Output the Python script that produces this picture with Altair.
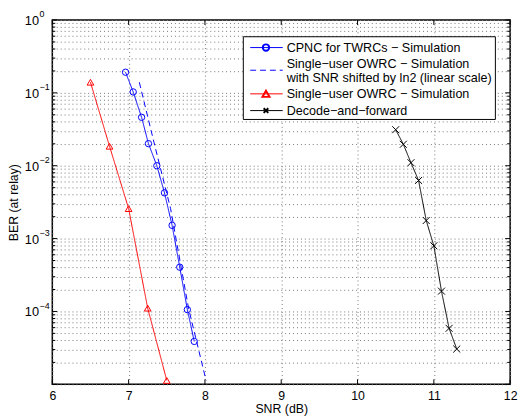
import altair as alt
import pandas as pd

# ---------------- data ----------------
cpnc_snr = [6.96, 7.06, 7.17, 7.26, 7.37, 7.47, 7.57, 7.67, 7.77, 7.86]
cpnc_ber = [0.192, 0.103, 0.0462, 0.0201, 0.0100, 0.00425, 0.00152, 4.05e-4, 1.06e-4, 3.88e-5]

shift_snr = [7.14, 7.345, 7.55, 7.785, 8.015]
shift_ber = [0.140, 0.0185, 0.00258, 1.11e-4, 1.13e-5]

owrc_snr = [6.5, 6.75, 7.0, 7.25, 7.5]
owrc_ber = [0.140, 0.0185, 0.00258, 1.11e-4, 1.13e-5]

df_snr = [10.5, 10.6, 10.7, 10.8, 10.9, 11.0, 11.1, 11.2, 11.3]
df_ber = [0.0312, 0.0197, 0.0110, 0.00628, 0.00177, 7.96e-4, 1.90e-4, 5.87e-5, 3.05e-5]

series_names = [
    "CPNC for TWRCs − Simulation",
    "Single−user OWRC − Simulation (shifted)",
    "Single−user OWRC − Simulation",
    "Decode−and−forward",
]
series_colors = ["#0000ff", "#0000ff", "#ff0000", "#000000"]

x_ticks = [6, 7, 8, 9, 10, 11, 12]
y_decades = [1, 1e-1, 1e-2, 1e-3, 1e-4, 1e-5]
y_decade_exp = ["0", "−1", "−2", "−3", "−4", "−5"]
y_minor = [m * d for d in [1e-1, 1e-2, 1e-3, 1e-4, 1e-5] for m in range(2, 10)]

# ---------------- tables ----------------
rows = []
for name, xs, ys in zip(series_names, [cpnc_snr, shift_snr, owrc_snr, df_snr],
                        [cpnc_ber, shift_ber, owrc_ber, df_ber]):
    for i, (a, b) in enumerate(zip(xs, ys)):
        rows.append({"series": name, "snr": a, "ber": b, "i": i})
data = pd.DataFrame(rows)

W, H = 465, 370
FONT = "Liberation Sans"

x_scale = alt.Scale(domain=[6, 12], nice=False, zero=False)
y_scale = alt.Scale(type="log", domain=[1e-5, 1], nice=False)

grid_vals = sorted(y_decades + y_minor)

x_enc = alt.X("snr:Q", scale=x_scale,
              axis=alt.Axis(values=x_ticks, format="d", grid=True, gridDash=[1, 3],
                            gridColor="#777", gridWidth=1, ticks=False, tickSize=0,
                            domain=False, labelFont=FONT, labelFontSize=12.5,
                            labelColor="#000", labelPadding=5, labelFlush=False,
                            title="SNR (dB)", titleFont=FONT, titleFontSize=12.5,
                            titleFontWeight="normal", titleColor="#000",
                            titleX=W / 2, titleY=25, titleBaseline="middle",
                            titleAlign="center"))
y_enc = alt.Y("ber:Q", scale=y_scale,
              axis=alt.Axis(values=grid_vals, grid=True, gridDash=[1, 3], gridColor="#777",
                            gridWidth=1, ticks=False, tickSize=0, domain=False, labels=False,
                            title="BER (at relay)", titleFont=FONT, titleFontSize=12.5,
                            titleFontWeight="normal", titleColor="#000",
                            titleX=-39, titleY=H / 2, titleAngle=-90,
                            titleAlign="center", titleBaseline="middle"))

x_plain = alt.X("snr:Q", scale=x_scale)
y_plain = alt.Y("ber:Q", scale=y_scale)

color = alt.Color("series:N", scale=alt.Scale(domain=series_names, range=series_colors),
                  legend=None)
dash = alt.StrokeDash("series:N",
                      scale=alt.Scale(domain=series_names,
                                      range=[[1, 0], [6, 4], [1, 0], [1, 0]]),
                      legend=None)

lines = alt.Chart(data).mark_line(strokeWidth=1, clip=True).encode(
    x=x_enc, y=y_enc, color=color, strokeDash=dash, order="i:Q"
)

CROSS = "M-1,-1L1,1M-1,1L1,-1"
marker_series = [series_names[0], series_names[2], series_names[3]]
markers = alt.Chart(data).transform_filter(
    alt.FieldOneOfPredicate(field="series", oneOf=marker_series)
).mark_point(filled=False, strokeWidth=1, opacity=1, clip=False).encode(
    x=x_plain, y=y_plain, color=color,
    shape=alt.Shape("series:N", scale=alt.Scale(domain=marker_series,
                                                range=["circle", "triangle-up", CROSS]),
                    legend=None),
    size=alt.Size("series:N", scale=alt.Scale(domain=marker_series, range=[42, 50, 22]),
                  legend=None),
)

# ---------------- inside ticks (box style) ----------------
ymaj = pd.DataFrame({"ber": y_decades})
ymin = pd.DataFrame({"ber": y_minor})
xt = pd.DataFrame({"snr": x_ticks})

tick_layers = []
for dfv, ln in [(ymaj, 5), (ymin, 3)]:
    tick_layers.append(alt.Chart(dfv).mark_rule(color="#000", strokeWidth=1).encode(
        y=y_plain, x=alt.value(0), x2=alt.value(ln)))
    tick_layers.append(alt.Chart(dfv).mark_rule(color="#000", strokeWidth=1).encode(
        y=y_plain, x=alt.value(W), x2=alt.value(W - ln)))
tick_layers.append(alt.Chart(xt).mark_rule(color="#000", strokeWidth=1).encode(
    x=x_plain, y=alt.value(H), y2=alt.value(H - 5)))
tick_layers.append(alt.Chart(xt).mark_rule(color="#000", strokeWidth=1).encode(
    x=x_plain, y=alt.value(0), y2=alt.value(5)))

# ---------------- y tick labels 10^k ----------------
ylab = pd.DataFrame({"ber": y_decades[:-1], "base": ["10"] * 5, "exp": y_decade_exp[:-1]})
ylab_base = alt.Chart(ylab).mark_text(align="right", baseline="middle", font=FONT,
                                      fontSize=13, color="#000", dy=1).encode(
    y=y_plain, x=alt.value(-13.5), text="base:N")
ylab_exp = alt.Chart(ylab).mark_text(align="left", baseline="middle", font=FONT,
                                     fontSize=9, color="#000", dy=-6).encode(
    y=y_plain, x=alt.value(-13), text="exp:N")

# ---------------- legend (MATLAB style box) ----------------
LX0, LX1, LY0, LY1 = 194, 450, 17, 101
SX0, SX1, MX, TX = 201, 234, 217, 238
rows_y = [28, 51, 75, 92]
legend_layers = [
    alt.Chart(pd.DataFrame({"k": [0]})).mark_rect(fill="#fff", stroke="#000",
                                                  strokeWidth=1).encode(
        x=alt.value(LX0), x2=alt.value(LX1), y=alt.value(LY0), y2=alt.value(LY1))
]
one = pd.DataFrame({"k": [0]})
for idx, ry in enumerate(rows_y):
    style = {"color": series_colors[idx], "strokeWidth": 1}
    if idx == 1:
        style["strokeDash"] = [6, 4]
    legend_layers.append(alt.Chart(one).mark_rule(**style).encode(
        x=alt.value(SX0), x2=alt.value(SX1), y=alt.value(ry)))
legend_layers.append(alt.Chart(one).mark_point(shape="circle", filled=False, size=42,
                                               color=series_colors[0], opacity=1).encode(
    x=alt.value(MX), y=alt.value(rows_y[0])))
legend_layers.append(alt.Chart(one).mark_point(shape="triangle-up", filled=False, size=50,
                                               color=series_colors[2], opacity=1).encode(
    x=alt.value(MX), y=alt.value(rows_y[2])))
legend_layers.append(alt.Chart(one).mark_point(shape=CROSS, filled=False, size=22,
                                               color=series_colors[3], opacity=1).encode(
    x=alt.value(MX), y=alt.value(rows_y[3])))

legend_texts = [
    (["CPNC for TWRCs − Simulation"], 28),
    (["Single−user OWRC − Simulation", "with SNR shifted by ln2 (linear scale)"], 44.5),
    (["Single−user OWRC − Simulation"], 75),
    (["Decode−and−forward"], 92),
]
for txt, ty in legend_texts:
    legend_layers.append(alt.Chart(one).mark_text(
        align="left", baseline="middle", font=FONT, fontSize=12.75, color="#000",
        lineHeight=14.5, text=txt if len(txt) > 1 else txt[0]).encode(
        x=alt.value(TX), y=alt.value(ty)))

chart = alt.layer(lines, markers, *tick_layers, ylab_base, ylab_exp, *legend_layers).properties(
    width=W, height=H,
    padding={"left": 45, "top": 9, "right": 10, "bottom": 30},
    autosize=alt.AutoSizeParams(type="none"),
    background="#ffffff",
).configure_view(stroke="#000", strokeWidth=1.5)

chart.save("out.html", embed_options={"renderer": "svg", "actions": False})
